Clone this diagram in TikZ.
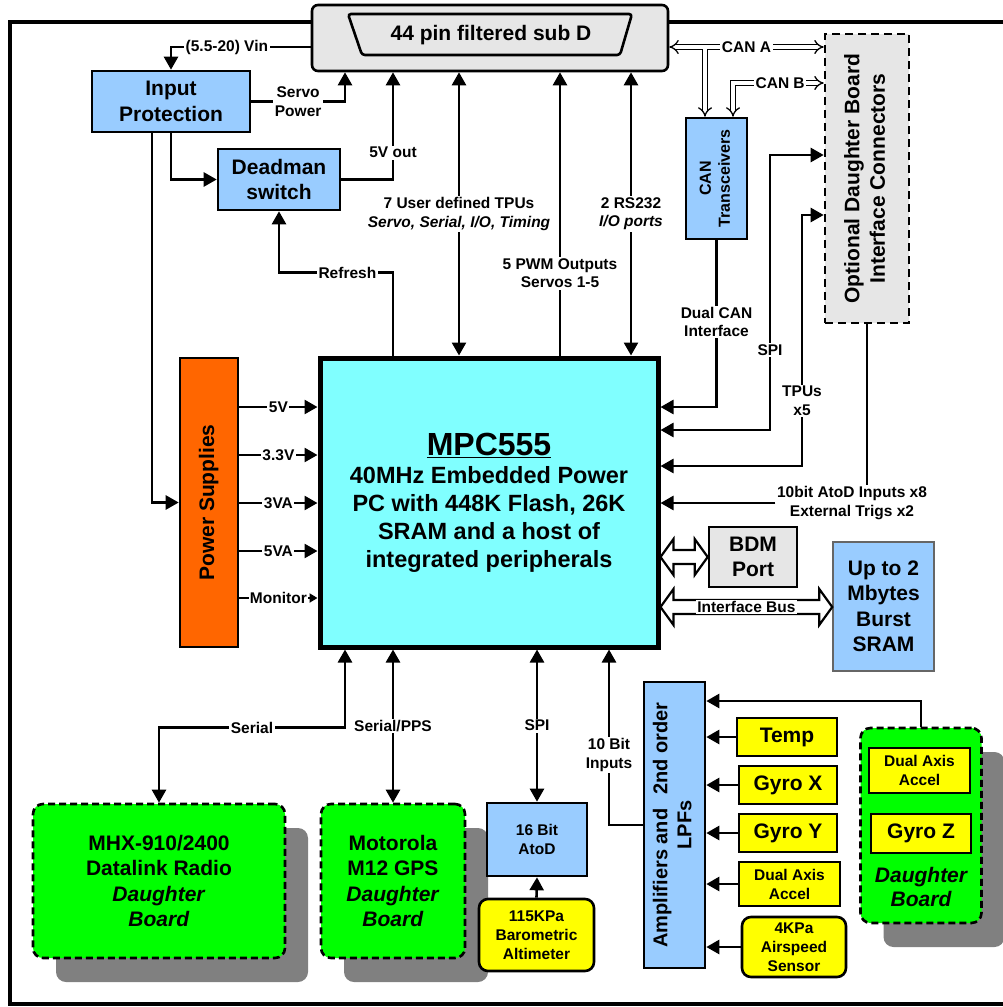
\documentclass[tikz,border=0pt]{standalone}
\usepackage{fontspec}
\setmainfont{Liberation Sans}
\usepackage{xcolor}
\usepackage{tikz}
\usetikzlibrary{positioning, arrows.meta, calc, shadows}
\definecolor{lblue}{HTML}{99CCFF}
\definecolor{mpccyan}{HTML}{80FFFF}
\definecolor{psuorange}{HTML}{FF6600}
\definecolor{dbgreen}{HTML}{00FF00}
\definecolor{senyellow}{HTML}{FFFF00}
\definecolor{boxgray}{HTML}{E6E6E6}
\newcommand{\fsz}[2]{\fontsize{#1}{#2}\selectfont}
\newcommand{\vtext}[1]{\rotatebox{90}{\begin{tabular}{@{}c@{}}#1\end{tabular}}}

\begin{document}
\begin{tikzpicture}[x=1pt, y=-1pt,
  blk/.style={draw, line width=2.6pt, inner sep=0pt, align=center, font=\bfseries\fsz{21}{25.5}},
  bluebox/.style={blk, fill=lblue},
  sensor/.style={blk, fill=senyellow},
  small/.style={font=\bfseries\fsz{15.5}{19}},
  dboard/.style={blk, fill=dbgreen, dash pattern=on 7pt off 4pt, rounded corners=10pt,
    drop shadow={shadow xshift=23pt, shadow yshift=-24pt, fill=black!50, opacity=1}},
  lbl/.style={fill=white, inner sep=1.5pt, align=center, font=\bfseries\fsz{15.5}{18.5}},
  arr/.style={line width=2.6pt, -{Triangle[length=13pt,width=14pt]}},
  darr/.style={line width=2.6pt, {Triangle[length=13pt,width=14pt]}-{Triangle[length=13pt,width=14pt]}},
  canbus/.style={double, double distance=3.5pt, line width=1.3pt},
  busbody/.style={draw, fill=white, line width=2.2pt, line join=miter}]
  \useasboundingbox (0,0) rectangle (1002,1007);
  \draw[line width=4pt] (1006,22) -- (10,22) -- (10,1004) -- (1006,1004);

  \node[blk, fill=boxgray, rounded corners=6pt, minimum width=356pt, minimum height=66pt] (sub) at (490,38) {};
  \draw[line width=2.6pt, rounded corners=3pt] ($(sub)+(-142,-24)$) -- ($(sub)+(142,-24)$)
    -- ($(sub)+(130,17)$) -- ($(sub)+(-128,17)$) -- cycle;
  \node[font=\bfseries\fsz{21}{25}] (subtxt) at ($(sub)+(1,-3)$) {44 pin filtered sub D};

  \node[bluebox, minimum width=158pt, minimum height=61pt] (inprot) at (171,101.5) {Input\\Protection};
  \node[bluebox, minimum width=122pt, minimum height=61pt] (dead) at (279,179.5) {Deadman\\switch};
  \node[blk, fill=psuorange, minimum width=58pt, minimum height=289pt] (psu) at (209,502.5) {\vtext{Power Supplies}};
  \node[blk, fill=mpccyan, line width=5pt, minimum width=338pt, minimum height=289pt, font=\bfseries\fsz{23.5}{28}] (mpc) at (489,502.5)
    {{\fsz{32}{36}\underline{MPC555}}\\40MHz Embedded Power\\PC with 448K Flash, 26K\\SRAM and a host of\\integrated peripherals};
  \node[bluebox, minimum width=61pt, minimum height=121pt, font=\bfseries\fsz{16}{19}] (cant) at (716.5,178.5) {\vtext{CAN\\Transceivers}};
  \node[blk, fill=boxgray, dash pattern=on 8pt off 5pt, minimum width=84pt, minimum height=289pt] (opt) at (867,178.5)
    {\vtext{Optional Daughter Board\\Interface Connectors}};
  \node[blk, fill=boxgray, minimum width=88pt, minimum height=60pt] (bdm) at (753,557) {BDM\\Port};
  \node[blk, fill=lblue, draw=black!60, line width=1.5pt, minimum width=101pt, minimum height=129pt] (sram) at (883.5,606.5)
    {Up to 2\\Mbytes\\Burst\\SRAM};

  \node[dboard, minimum width=252pt, minimum height=154pt] (radio) at (159,881)
    {MHX-910/2400\\Datalink Radio\\\textit{Daughter}\\\textit{Board}};
  \node[dboard, minimum width=144pt, minimum height=154pt] (gps) at (393,881)
    {Motorola\\M12 GPS\\\textit{Daughter}\\\textit{Board}};
  \node[bluebox, small, minimum width=100pt, minimum height=73pt] (atod) at (537,839.5) {16 Bit\\AtoD};
  \node[sensor, small, rounded corners=9pt, minimum width=115pt, minimum height=72pt] (baro) at (536.5,935) {115KPa\\Barometric\\Altimeter};
  \node[bluebox, minimum width=61pt, minimum height=286pt, font=\bfseries\fsz{20}{24}] (amp) at (674.5,825)
    {\vtext{Amplifiers and\hspace{14pt}2nd order\\LPFs}};
  \node[sensor, minimum width=100pt, minimum height=38pt] (temp) at (787,737) {Temp};
  \node[sensor, minimum width=98pt, minimum height=38pt] (gyrox) at (788,785) {Gyro X};
  \node[sensor, minimum width=98pt, minimum height=38pt] (gyroy) at (788,833) {Gyro Y};
  \node[sensor, small, minimum width=101pt, minimum height=44pt] (accel) at (789.5,884) {Dual Axis\\Accel};
  \node[sensor, small, rounded corners=9pt, minimum width=104pt, minimum height=60pt] (airsp) at (794,947) {4KPa\\Airspeed\\Sensor};
  \node[dboard, minimum width=121pt, minimum height=195pt] (dbrd) at (921,825.5) {};
  \node[sensor, small, minimum width=101pt, minimum height=45pt] (dbaccel) at (919.5,770.5) {Dual Axis\\Accel};
  \node[sensor, minimum width=100pt, minimum height=39pt] (gyroz) at (921,833.5) {Gyro Z};
  \node[font=\bfseries\itshape\fsz{21}{24}, align=center] (dbtxt) at (921,887) {Daughter\\Board};

  \draw[arr] (sub.west |- 0,47) -| node[lbl, pos=0.3] (lvin) {(5.5-20) Vin} (inprot.north);
  \draw[arr] (inprot.east) -| node[lbl, pos=0.25] (lservo) {Servo\\Power} (sub.south -| 345,0);
  \draw[arr] (inprot.south) |- (dead.west);
  \draw[arr] (dead.east) -| node[lbl, pos=0.625] (l5v) {5V out} (sub.south -| 393,0);
  \draw[arr] (mpc.north -| 393,0) -- ++(0,-83) -| node[lbl, pos=0.2] (lref) {Refresh} (dead.south);
  \draw[darr] (mpc.north -| 459,0) -- node[lbl] (ltpu) {7 User defined TPUs\\\textit{Servo, Serial, I/O, Timing}} (sub.south -| 459,0);
  \draw[arr] (mpc.north -| 560,0) -- node[lbl, pos=0.29] (lpwm) {5 PWM Outputs\\Servos 1-5} (sub.south -| 560,0);
  \draw[darr] (mpc.north -| 631,0) -- node[lbl] (lrs) {2 RS232\\\textit{I/O ports}} (sub.south -| 631,0);
  \draw[arr] (inprot.south -| 152,0) |- (psu.west);

  \coordinate (cana) at (705,47);
  \coordinate (canb) at (733,83);
  \draw[canbus, {Implies}-{Implies}] (sub.east |- cana) -- node[lbl] (lcana) {CAN A} (opt.west |- cana);
  \draw[canbus, -{Implies}] (cana) ++(0,2) -- (cana |- cant.north);
  \draw[canbus, {Implies}-{Implies}] (opt.west |- canb) -- node[lbl, pos=0.48] (lcanb) {CAN B} (canb) -- (canb |- cant.north);
  \draw[arr] (cant.south) |- node[lbl, pos=0.245] (ldcan) {Dual CAN\\Interface} (mpc.east |- 0,407);
  \draw[darr] (opt.west |- 0,155) -| (770,430) node[lbl, pos=0.855] (lspi) {SPI} -- (mpc.east |- 0,430);
  \draw[darr] (opt.west |- 0,215) -| (802,466) node[lbl, pos=0.87] (ltpx) {TPUs\\x5} -- (mpc.east |- 0,466);
  \node[lbl] (latod) at (852,503) {10bit AtoD Inputs x8\\External Trigs x2};
  \draw[line width=2.6pt] (opt.south) -- (opt.south |- latod.north);
  \draw[arr] (latod.west) -- (mpc.east |- latod.west);

  \draw[busbody] let \p1=(mpc.east |- bdm.west), \p2=(bdm.west) in
    (\x1,\y1) -- ++(13pt,18pt) -- ++(0pt,-11pt) -- (\x2-13pt,\y1+7pt) -- ++(0pt,11pt) -- (\x2,\y1)
    -- ++(-13pt,-18pt) -- ++(0pt,11pt) -- (\x1+13pt,\y1-7pt) -- ++(0pt,-11pt) -- cycle;
  \draw[busbody] let \p1=(mpc.east |- 0,607), \p2=(sram.west |- 0,607) in
    (\x1,\y1) -- ++(13pt,18pt) -- ++(0pt,-11pt) -- (\x2-13pt,\y1+7pt) -- ++(0pt,11pt) -- (\x2,\y1)
    -- ++(-13pt,-18pt) -- ++(0pt,11pt) -- (\x1+13pt,\y1-7pt) -- ++(0pt,-11pt) -- cycle;
  \node[lbl] (lbus) at ($(mpc.east |- 0,607)!0.5!(sram.west |- 0,607)$) {Interface Bus};

  \foreach \y/\v in {407/5V, 455/3.3V, 503/3VA, 551/5VA}
    \draw[arr] (psu.east |- 0,\y) -- node[lbl] (lp\v) {\v} (mpc.west |- 0,\y);
  \draw[line width=2.6pt, -{Triangle[length=8pt,width=9pt]}] (psu.east |- 0,598) -- node[lbl, inner sep=1pt] (lmon) {Monitor} (mpc.west |- 0,598);

  \draw[darr] (mpc.south -| 345,0) -- ++(0,78) -| node[lbl, pos=0.25] (lser) {Serial} (radio.north);
  \draw[darr] (mpc.south -| gps.north) -- node[lbl] (lpps) {Serial/PPS} (gps.north);
  \draw[darr] (mpc.south -| atod.north) -- node[lbl] (lspib) {SPI} (atod.north);
  \draw[arr] (amp.west) -| node[lbl, pos=0.7] (l10b) {10 Bit\\Inputs} (mpc.south -| 609,0);
  \draw[arr] (baro.north) -- (atod.south);
  \foreach \n in {temp, gyrox, gyroy, accel, airsp}
    \draw[arr] (\n.west) -- (amp.east |- \n.west);
  \draw[arr] (dbrd.north) |- (amp.east |- 0,701);
\end{tikzpicture}
\end{document}
